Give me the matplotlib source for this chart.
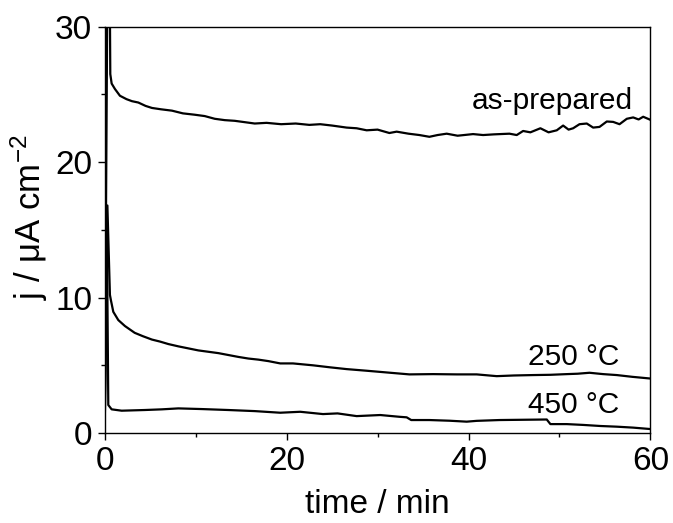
import numpy as np
import matplotlib
matplotlib.use('Agg')
from matplotlib import pyplot as plt
from matplotlib.ticker import MultipleLocator

plt.rcParams['font.family'] = ['Liberation Sans', 'DejaVu Sans']
plt.rcParams['mathtext.fontset'] = 'custom'
plt.rcParams['mathtext.rm'] = 'Liberation Sans'
plt.rcParams['mathtext.it'] = 'Liberation Sans'
plt.rcParams['axes.unicode_minus'] = False

# as-prepared film, values
t_asprep = [0.0, 0.3, 0.58, 0.62, 0.77, 1.13, 1.68, 2.4, 3.0, 3.7, 4.5, 5.2, 6.2, 7.4, 8.6,
            9.9, 11.0, 12.1, 13.2, 14.3, 15.4, 16.5, 17.8, 19.4, 21.0, 22.5, 23.7, 25.0,
            26.6, 27.7, 28.8, 30.0, 31.3, 32.1, 33.4, 34.6, 35.7, 36.6, 37.6, 38.8, 40.5,
            41.6, 42.8, 44.5, 45.3, 46.0, 46.8, 47.9, 48.8, 49.7, 50.4, 51.0, 51.5, 52.2,
            53.0, 53.7, 54.4, 55.2, 55.9, 56.6, 57.4, 58.1, 58.7, 59.2, 59.9]
j_asprep = [0.0, 33.0, 31.0, 26.5, 25.8, 25.4, 24.9, 24.65, 24.5, 24.4, 24.15, 24.0, 23.9,
            23.8, 23.6, 23.5, 23.4, 23.2, 23.1, 23.05, 22.95, 22.85, 22.9, 22.8, 22.85,
            22.75, 22.8, 22.7, 22.55, 22.5, 22.35, 22.4, 22.15, 22.25, 22.1, 22.0, 21.87,
            22.0, 22.1, 21.95, 22.07, 22.0, 22.05, 22.1, 22.0, 22.3, 22.2, 22.5, 22.2,
            22.35, 22.7, 22.4, 22.5, 22.8, 22.85, 22.55, 22.6, 23.0, 22.97, 22.8, 23.2,
            23.3, 23.15, 23.35, 23.15]

# annealed at 250 C
t_250 = [0.0, 0.3, 0.58, 0.69, 0.95, 1.5, 2.23, 3.3, 4.2, 5.2, 6.1, 7.0, 8.1, 9.2, 10.3,
         11.4, 12.5, 13.6, 14.7, 15.8, 16.9, 18.0, 19.3, 20.7, 22.9, 24.8, 26.6, 28.8,
         31.4, 33.5, 36.1, 38.7, 40.9, 43.1, 45.0, 47.1, 49.0, 50.8, 52.0, 53.3, 54.8,
         56.3, 58.0, 59.9]
j_250 = [0.0, 16.8, 10.2, 9.8, 8.95, 8.34, 7.9, 7.4, 7.15, 6.9, 6.75, 6.57, 6.4, 6.25,
         6.1, 6.0, 5.9, 5.76, 5.62, 5.5, 5.42, 5.31, 5.14, 5.14, 5.0, 4.85, 4.72, 4.6,
         4.45, 4.33, 4.35, 4.33, 4.33, 4.2, 4.25, 4.28, 4.3, 4.35, 4.38, 4.45, 4.35,
         4.28, 4.15, 4.03]

# annealed at 450 C
t_450 = [0.0, 0.25, 0.4, 0.77, 1.87, 4.4, 6.3, 8.1, 10.7, 13.6, 16.5, 19.3, 21.5, 24.0,
         25.6, 27.7, 30.3, 32.4, 33.2, 33.7, 35.7, 37.9, 39.8, 40.9, 43.4, 46.0, 48.6,
         49.0, 50.8, 52.6, 54.5, 56.3, 58.1, 59.9]
j_450 = [0.0, 14.4, 2.07, 1.75, 1.65, 1.7, 1.75, 1.82, 1.77, 1.7, 1.62, 1.5, 1.57, 1.4,
         1.45, 1.25, 1.33, 1.2, 1.16, 0.96, 0.96, 0.91, 0.84, 0.9, 0.96, 0.98, 1.0,
         0.66, 0.66, 0.6, 0.52, 0.47, 0.4, 0.3]

fig = plt.figure(figsize=(6.73, 5.23), dpi=100)
ax = fig.add_axes([0.1555, 0.172, 0.811, 0.777])

for t, j in [(t_asprep, j_asprep), (t_250, j_250), (t_450, j_450)]:
    ax.plot(t, j, color='black', lw=1.6)

ax.set_xlim(0, 60)
ax.set_ylim(0, 30)
ax.xaxis.set_major_locator(MultipleLocator(20))
ax.xaxis.set_minor_locator(MultipleLocator(10))
ax.yaxis.set_major_locator(MultipleLocator(10))
ax.yaxis.set_minor_locator(MultipleLocator(5))
ax.tick_params(which='both', direction='out', top=False, right=False, width=1)
ax.tick_params(which='major', length=5, labelsize=24, pad=4)
ax.tick_params(which='minor', length=3)
for s in ax.spines.values():
    s.set_linewidth(1)

ax.set_xlabel('time / min', fontsize=24, labelpad=9)
ax.set_ylabel('j / $\\mu$A cm$^{-2}$', fontsize=25)
ax.yaxis.set_label_coords(-0.100, 0.531)

ax.text(58.1, 23.9, 'as-prepared', fontsize=21.5, ha='right', va='baseline')
ax.text(56.6, 5.0, '250 °C', fontsize=21.5, ha='right', va='baseline')
ax.text(56.6, 1.45, '450 °C', fontsize=21.5, ha='right', va='baseline')

plt.savefig('out.png', dpi=100)
